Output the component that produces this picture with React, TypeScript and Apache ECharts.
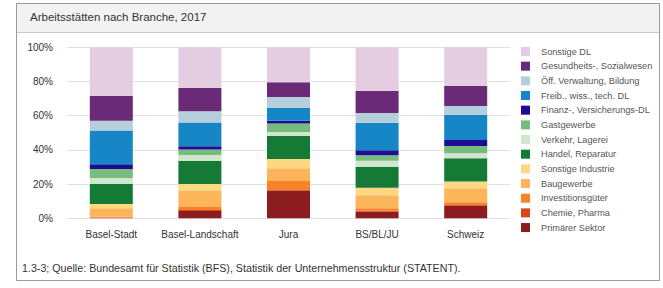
import React, { useEffect, useRef } from "react";
import * as echarts from "echarts";

const categories = ["Basel-Stadt", "Basel-Landschaft", "Jura", "BS/BL/JU", "Schweiz"];

// stacking order: bottom -> top
const seriesNames = [
  "Primärer Sektor",
  "Chemie, Pharma",
  "Investitionsgüter",
  "Baugewerbe",
  "Sonstige Industrie",
  "Handel, Reparatur",
  "Verkehr, Lagerei",
  "Gastgewerbe",
  "Finanz-, Versicherungs-DL",
  "Freib., wiss., tech. DL",
  "Öff. Verwaltung, Bildung",
  "Gesundheits-, Sozialwesen",
  "Sonstige DL",
];

const primaer = [0.1, 4.3, 16.2, 3.8, 7.4];
const chemie = [0.3, 0.5, 0.3, 0.6, 0.4];
const investition = [0.5, 1.8, 5.3, 1.5, 1.6];
const bau = [5.0, 9.4, 7.4, 7.6, 8.2];
const sonstIndustrie = [2.5, 4.1, 5.5, 4.3, 3.9];
const handel = [11.7, 13.6, 13.4, 12.3, 13.6];
const verkehr = [3.5, 3.3, 2.3, 3.5, 2.9];
const gastgewerbe = [5.3, 3.3, 5.1, 3.3, 4.3];
const finanz = [2.7, 1.9, 1.6, 2.9, 3.5];
const freib = [19.7, 13.8, 7.5, 16.0, 14.6];
const oeff = [5.7, 6.6, 6.4, 5.8, 5.3];
const gesundheit = [14.6, 13.6, 8.6, 12.9, 11.7];
const sonstigeDL = [28.4, 23.8, 20.4, 25.5, 22.6];

const seriesValues = [
  primaer, chemie, investition, bau, sonstIndustrie, handel, verkehr,
  gastgewerbe, finanz, freib, oeff, gesundheit, sonstigeDL,
];

const colors = [
  "#8b1c1f", "#d8461a", "#f88228", "#fdb55b", "#fdd883", "#157a36", "#cfe6cf",
  "#77bc7d", "#1d0c95", "#1686c6", "#b5cfdc", "#6a2a78", "#e5cde1",
];

const yTicks = ["0%", "20%", "40%", "60%", "80%", "100%"];

const titleText = "Arbeitsstätten nach Branche, 2017";
const footerText = "1.3-3; Quelle: Bundesamt für Statistik (BFS), Statistik der Unternehmensstruktur (STATENT).";

const FONT = "'Liberation Sans', Arial, sans-serif";

export default function App() {
  const ref = useRef<HTMLDivElement>(null);
  useEffect(() => {
    if (!ref.current) return;
    const chart = echarts.init(ref.current, null, { renderer: "svg" });
    chart.setOption({
      animation: false,
      backgroundColor: "#ffffff",
      textStyle: { fontFamily: FONT },
      graphic: [
        {
          type: "rect",
          shape: { x: 16.5, y: 3.5, width: 643, height: 277 },
          style: { fill: "#ffffff", stroke: "#9a9a9a", lineWidth: 1 },
          z: -10,
          silent: true,
        },
        {
          type: "rect",
          shape: { x: 17, y: 4, width: 642, height: 28 },
          style: { fill: "#f2f2f2" },
          z: -9,
          silent: true,
        },
        {
          type: "line",
          shape: { x1: 17, y1: 32.5, x2: 659, y2: 32.5 },
          style: { stroke: "#c8c8c8", lineWidth: 1 },
          z: -8,
          silent: true,
        },
      ],
      title: [
        {
          text: titleText,
          left: 30,
          top: 11,
          padding: 0,
          textStyle: { fontSize: 11.5, fontWeight: "normal", color: "#333", fontFamily: FONT },
        },
        {
          text: footerText,
          left: 22,
          top: 262,
          padding: 0,
          textStyle: { fontSize: 10.7, fontWeight: "normal", color: "#333", fontFamily: FONT },
        },
      ],
      legend: {
        orient: "vertical",
        left: 521,
        top: 47,
        padding: 0,
        itemWidth: 9,
        itemHeight: 9,
        itemGap: 5.67,
        icon: "rect",
        data: [...seriesNames].reverse(),
        textStyle: { fontSize: 9.2, lineHeight: 9, color: "#555", fontFamily: FONT, padding: [0, 0, 0, 6] },
        selectedMode: false,
      },
      grid: { left: 67, right: 153, top: 47.3, bottom: 288 - 218.3, containLabel: false },
      xAxis: {
        type: "category",
        data: categories,
        axisLine: { show: false },
        axisTick: { show: false },
        axisLabel: { fontSize: 10, color: "#333", margin: 11, interval: 0, fontFamily: FONT },
      },
      yAxis: {
        type: "value",
        min: 0,
        max: 100,
        interval: 20,
        axisLine: { show: false },
        axisTick: { show: false },
        axisLabel: {
          fontSize: 10,
          color: "#333",
          margin: 14,
          fontFamily: FONT,
          formatter: (v: number) => yTicks[Math.round(v / 20)],
        },
        splitLine: { lineStyle: { color: "#e0e0e0", width: 1 } },
      },
      series: seriesNames.map((name, i) => ({
        name,
        type: "bar",
        stack: "total",
        barWidth: 43,
        data: seriesValues[i],
        itemStyle: { color: colors[i] },
        emphasis: { disabled: true },
      })),
    });
    return () => chart.dispose();
  }, []);
  return (
    <div
      ref={ref}
      style={{ position: "fixed", left: 0, top: 0, width: 663, height: 288 }}
    />
  );
}
